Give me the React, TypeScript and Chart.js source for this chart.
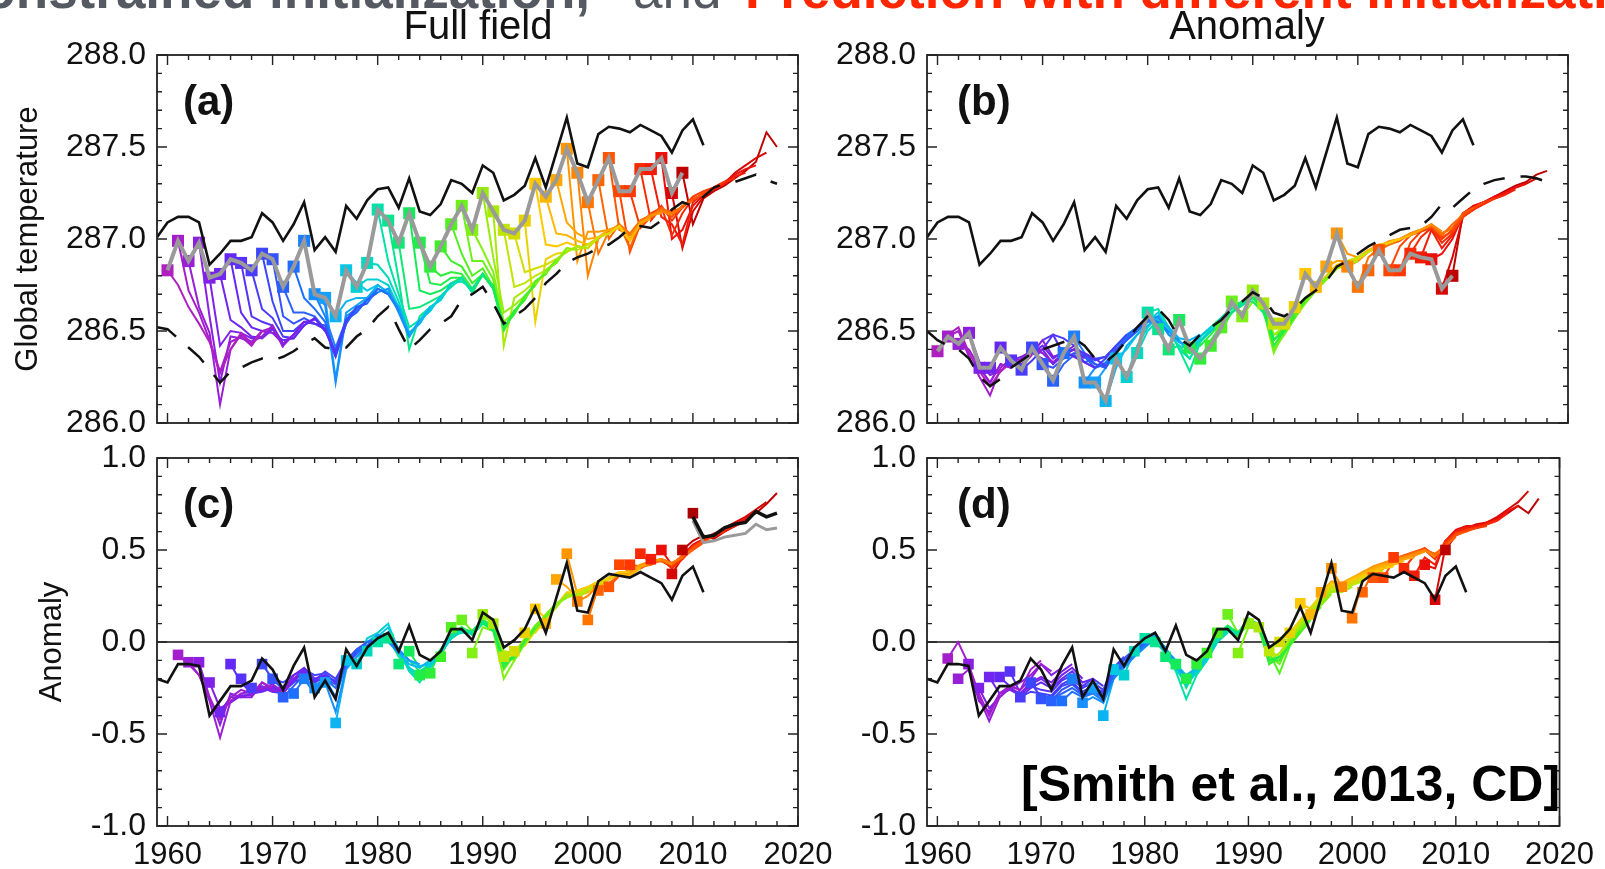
import React, { useEffect, useRef } from "react";
import { Chart, registerables } from "chart.js";
Chart.register(...registerables);

const FONT = '"Liberation Sans", Arial, Helvetica, sans-serif';

// ---------------- data ----------------
const obsYears = [1959,1960,1961,1962,1963,1964,1965,1966,1967,1968,1969,1970,1971,1972,1973,1974,1975,1976,1977,1978,1979,1980,1981,1982,1983,1984,1985,1986,1987,1988,1989,1990,1991,1992,1993,1994,1995,1996,1997,1998,1999,2000,2001,2002,2003,2004,2005,2006,2007,2008,2009,2010,2011];
const obsFull = [287.01,287.09,287.12,287.12,287.09,286.86,286.92,286.99,286.99,287.01,287.14,287.09,286.99,287.08,287.20,286.94,287.01,286.93,287.18,287.11,287.21,287.27,287.28,287.17,287.33,287.15,287.13,287.19,287.32,287.30,287.25,287.40,287.36,287.21,287.24,287.29,287.44,287.28,287.47,287.66,287.41,287.39,287.57,287.61,287.60,287.58,287.62,287.59,287.56,287.47,287.59,287.65,287.51];
const obsAnom = [-0.20,-0.22,-0.12,-0.12,-0.13,-0.40,-0.32,-0.24,-0.24,-0.21,-0.09,-0.15,-0.26,-0.13,-0.03,-0.30,-0.21,-0.31,-0.04,-0.13,-0.03,0.02,0.05,-0.05,0.09,-0.07,-0.10,-0.05,0.07,0.07,0.01,0.16,0.12,-0.03,0.01,0.07,0.19,0.05,0.24,0.43,0.17,0.16,0.33,0.37,0.36,0.35,0.38,0.35,0.32,0.23,0.36,0.41,0.27];

const uninitYears = [1959,1960,1961,1962,1963,1964,1965,1966,1967,1968,1969,1970,1971,1972,1973,1974,1975,1976,1977,1978,1979,1980,1981,1982,1983,1984,1985,1986,1987,1988,1989,1990,1991,1992,1993,1994,1995,1996,1997,1998,1999,2000,2001,2002,2003,2004,2005,2006,2007,2008,2009,2010,2011,2012,2013,2014,2015,2016,2017,2018];
const uninitFullField = [286.52,286.51,286.46,286.41,286.36,286.29,286.22,286.28,286.30,286.33,286.35,286.34,286.36,286.39,286.43,286.46,286.41,286.40,286.41,286.47,286.51,286.58,286.63,286.51,286.40,286.45,286.51,286.54,286.58,286.67,286.70,286.74,286.65,286.54,286.58,286.62,286.68,286.76,286.81,286.87,286.90,286.92,286.95,286.97,287.01,287.06,287.07,287.06,287.10,287.16,287.20,287.18,287.23,287.28,287.30,287.31,287.33,287.35,287.32,287.30];
const uninitAnomaly = [286.50,286.45,286.42,286.40,286.35,286.25,286.20,286.24,286.30,286.34,286.38,286.40,286.42,286.44,286.46,286.42,286.35,286.33,286.38,286.45,286.52,286.58,286.62,286.56,286.46,286.42,286.48,286.52,286.56,286.62,286.66,286.71,286.68,286.60,286.58,286.62,286.68,286.72,286.77,286.85,286.88,286.92,286.96,286.99,287.02,287.05,287.06,287.07,287.12,287.19,287.17,287.22,287.27,287.30,287.32,287.33,287.34,287.34,287.33,287.31];

const startYearsAB = [1960,1961,1962,1963,1964,1965,1966,1967,1968,1969,1970,1971,1972,1973,1974,1975,1976,1977,1978,1979,1980,1981,1982,1983,1984,1985,1986,1987,1988,1989,1990,1991,1992,1993,1994,1995,1996,1997,1998,1999,2000,2001,2002,2003,2004,2005,2006,2007,2008,2009];
const startYearsCD = [1961,1962,1963,1964,1965,1966,1967,1968,1969,1970,1971,1972,1973,1974,1975,1976,1977,1978,1979,1980,1981,1982,1983,1984,1985,1986,1987,1988,1989,1990,1991,1992,1993,1994,1995,1996,1997,1998,1999,2000,2001,2002,2003,2004,2005,2006,2007,2008,2009];

// (a) full field: first-year forecasts and following nine years of each hindcast
const firstYearA = [286.83,286.99,286.88,286.98,286.79,286.81,286.89,286.87,286.83,286.92,286.89,286.74,286.85,286.99,286.70,286.68,286.58,286.83,286.74,286.87,287.16,287.10,286.98,287.14,286.98,286.85,286.96,287.08,287.18,287.05,287.25,287.15,287.05,287.03,287.10,287.30,287.23,287.32,287.49,287.36,287.20,287.32,287.44,287.26,287.26,287.38,287.38,287.44,287.25,287.36];
const hindcastA = [
  [286.75,286.63,286.54,286.44,286.27,286.40,286.49,286.43,286.50],
  [286.72,286.60,286.45,286.28,286.44,286.47,286.42,286.50,286.52],
  [286.63,286.49,286.10,286.40,286.48,286.44,286.47,286.53,286.41],
  [286.58,286.22,286.47,286.46,286.44,286.50,286.49,286.43,286.48],
  [286.42,286.50,286.49,286.46,286.47,286.52,286.42,286.48,286.55],
  [286.56,286.52,286.47,286.46,286.51,286.43,286.48,286.55,286.56],
  [286.60,286.52,286.50,286.49,286.45,286.46,286.53,286.57,286.50],
  [286.58,286.55,286.53,286.43,286.48,286.55,286.54,286.51,286.36],
  [286.62,286.57,286.47,286.46,286.53,286.57,286.50,286.39,286.56],
  [286.66,286.50,286.50,286.55,286.54,286.51,286.37,286.56,286.63],
  [286.58,286.54,286.57,286.54,286.53,286.36,286.54,286.63,286.65],
  [286.60,286.60,286.58,286.51,286.37,286.56,286.60,286.67,286.71],
  [286.68,286.62,286.55,286.37,286.54,286.63,286.65,286.73,286.70],
  [286.70,286.58,286.41,286.56,286.61,286.67,286.73,286.70,286.61],
  [286.64,286.22,286.58,286.62,286.67,286.71,286.73,286.60,286.47],
  [286.24,286.60,286.64,286.68,286.73,286.70,286.63,286.47,286.56],
  [286.66,286.68,286.68,286.75,286.71,286.61,286.49,286.54,286.63],
  [286.76,286.72,286.75,286.71,286.63,286.47,286.56,286.61,286.69],
  [286.78,286.78,286.75,286.63,286.47,286.56,286.63,286.67,286.76],
  [286.86,286.79,286.66,286.49,286.54,286.63,286.67,286.76,286.77],
  [286.88,286.70,286.52,286.56,286.61,286.69,286.74,286.79,286.71],
  [286.78,286.40,286.58,286.63,286.67,286.76,286.77,286.73,286.81],
  [286.62,286.63,286.66,286.69,286.74,286.79,286.71,286.81,286.73],
  [286.72,286.70,286.72,286.76,286.79,286.71,286.81,286.73,286.53],
  [286.76,286.75,286.79,286.79,286.71,286.81,286.73,286.51,286.61],
  [286.80,286.82,286.81,286.73,286.80,286.75,286.51,286.61,286.67],
  [286.88,286.85,286.76,286.81,286.73,286.52,286.59,286.69,286.75],
  [286.92,286.80,286.84,286.74,286.50,286.61,286.67,286.77,286.81],
  [286.88,286.88,286.78,286.51,286.61,286.67,286.77,286.81,286.89],
  [286.94,286.82,286.55,286.60,286.69,286.75,286.83,286.87,286.95],
  [286.90,286.60,286.64,286.69,286.75,286.83,286.87,286.95,286.94],
  [286.42,286.68,286.72,286.77,286.81,286.89,286.93,286.96,286.95],
  [286.74,286.76,286.80,286.83,286.88,286.95,286.94,286.97,287.00],
  [286.82,286.84,286.86,286.89,286.93,286.96,286.95,287.01,287.03],
  [286.55,286.89,286.92,286.93,286.96,286.95,287.01,287.03,287.07],
  [286.97,286.96,286.98,286.96,286.95,287.01,287.03,287.07,286.99],
  [287.03,287.02,286.99,286.97,287.01,287.03,287.07,286.99,287.08],
  [287.09,287.03,287.00,287.01,287.05,287.06,286.99,287.09,287.11],
  [286.88,287.04,287.04,287.05,287.07,287.00,287.08,287.13,287.14],
  [286.80,287.00,287.05,287.07,287.02,287.08,287.12,287.15,287.13],
  [286.92,287.04,287.08,287.03,287.10,287.13,287.16,287.14,287.17],
  [287.00,287.08,286.95,287.09,287.12,287.17,287.13,287.18,287.21],
  [287.05,287.02,287.10,287.13,287.16,287.15,287.17,287.22,287.24],
  [286.93,287.08,287.14,287.17,287.12,287.18,287.21,287.25,287.27],
  [287.06,287.12,287.18,287.10,287.17,287.23,287.26,287.28,287.31],
  [287.10,287.17,287.02,287.14,287.22,287.24,287.28,287.31,287.33],
  [287.12,287.08,286.97,287.20,287.25,287.27,287.30,287.34,287.36],
  [287.00,287.05,287.18,287.24,287.28,287.31,287.35,287.38,287.40],
  [286.95,287.15,287.23,287.27,287.30,287.36,287.40,287.44,287.47],
  [287.08,287.22,287.26,287.29,287.33,287.37,287.42,287.58,287.50],
];

// (b) anomaly initialization
const firstYearB = [286.39,286.47,286.43,286.49,286.30,286.30,286.41,286.34,286.29,286.41,286.32,286.23,286.38,286.47,286.22,286.22,286.12,286.35,286.25,286.38,286.60,286.51,286.40,286.56,286.41,286.35,286.42,286.52,286.66,286.58,286.72,286.65,286.54,286.54,286.63,286.81,286.74,286.85,287.03,286.85,286.74,286.83,286.94,286.83,286.83,286.92,286.90,286.89,286.73,286.80];
const hindcastB = [
  [286.48,286.52,286.38,286.28,286.20,286.28,286.33,286.31,286.37],
  [286.50,286.36,286.25,286.15,286.30,286.35,286.34,286.38,286.40],
  [286.40,286.30,286.22,286.32,286.30,286.35,286.40,286.38,286.33],
  [286.33,286.26,286.28,286.34,286.32,286.38,286.45,286.36,286.38],
  [286.22,286.32,286.30,286.35,286.38,286.35,286.33,286.38,286.42],
  [286.28,286.34,286.36,286.39,286.40,286.32,286.37,286.40,286.35],
  [286.35,286.30,286.38,286.42,286.35,286.39,286.36,286.33,286.30],
  [286.32,286.38,286.45,286.48,286.37,286.40,286.38,286.35,286.31],
  [286.34,286.40,286.48,286.46,286.42,286.37,286.34,286.36,286.42],
  [286.38,286.32,286.38,286.40,286.33,286.30,286.35,286.42,286.48],
  [286.30,286.35,286.38,286.36,286.32,286.30,286.40,286.45,286.50],
  [286.32,286.37,286.33,286.35,286.36,286.42,286.47,286.52,286.55],
  [286.40,286.36,286.30,286.32,286.40,286.46,286.50,286.56,286.54],
  [286.38,286.32,286.30,286.42,286.48,286.52,286.57,286.55,286.49],
  [286.30,286.33,286.40,286.46,286.51,286.56,286.58,286.48,286.45],
  [286.30,286.38,286.45,286.50,286.55,286.54,286.50,286.44,286.42],
  [286.30,286.42,286.48,286.53,286.57,286.52,286.46,286.45,286.48],
  [286.40,286.48,286.55,286.60,286.50,286.44,286.40,286.47,286.52],
  [286.42,286.52,286.58,286.52,286.45,286.38,286.45,286.50,286.56],
  [286.50,286.56,286.48,286.42,286.40,286.47,286.52,286.57,286.63],
  [286.62,286.52,286.40,286.35,286.45,286.50,286.56,286.62,286.65],
  [286.52,286.40,286.28,286.44,286.50,286.55,286.60,286.64,286.68],
  [286.42,286.35,286.44,286.52,286.57,286.63,286.66,286.66,286.60],
  [286.40,286.45,286.50,286.56,286.60,286.65,286.68,286.62,286.46],
  [286.42,286.48,286.55,286.63,286.66,286.70,286.60,286.45,286.50],
  [286.45,286.53,286.60,286.64,286.68,286.63,286.42,286.50,286.58],
  [286.50,286.60,286.65,286.70,286.62,286.45,286.52,286.60,286.66],
  [286.60,286.66,286.70,286.64,286.42,286.50,286.58,286.67,286.72],
  [286.64,286.68,286.62,286.40,286.48,286.57,286.66,286.73,286.79],
  [286.66,286.62,286.38,286.50,286.58,286.65,286.72,286.78,286.84],
  [286.66,286.48,286.52,286.60,286.67,286.73,286.79,286.85,286.87],
  [286.48,286.50,286.58,286.66,286.72,286.78,286.84,286.86,286.88],
  [286.50,286.57,286.65,286.72,286.78,286.85,286.87,286.90,286.93],
  [286.58,286.66,286.73,286.79,286.84,286.88,286.90,286.93,286.96],
  [286.68,286.73,286.78,286.84,286.87,286.89,286.93,286.96,286.98],
  [286.75,286.79,286.85,286.87,286.90,286.93,286.96,286.98,287.00],
  [286.80,286.86,286.88,286.90,286.94,286.97,286.98,287.00,287.02],
  [286.88,286.88,286.90,286.93,286.96,286.98,287.00,287.02,287.05],
  [286.92,286.90,286.94,286.96,286.99,287.00,287.03,287.05,287.08],
  [286.88,286.93,286.96,286.98,287.00,287.02,287.05,287.08,287.04],
  [286.90,286.95,286.97,287.00,287.03,287.05,287.08,287.03,287.06],
  [286.94,286.98,287.00,287.02,287.05,287.07,287.02,287.08,287.13],
  [286.97,286.99,287.03,287.05,287.07,287.03,287.06,287.14,287.17],
  [286.96,287.02,287.04,287.07,287.01,287.04,287.12,287.17,287.20],
  [286.98,287.04,287.06,287.00,287.05,287.13,287.16,287.20,287.22],
  [287.01,287.06,286.98,287.03,287.12,287.16,287.19,287.22,287.24],
  [287.05,286.95,287.02,287.14,287.17,287.20,287.22,287.24,287.27],
  [286.92,287.00,287.13,287.18,287.20,287.23,287.25,287.28,287.30],
  [286.90,287.12,287.16,287.20,287.22,287.25,287.28,287.30,287.33],
  [287.14,287.18,287.20,287.23,287.26,287.29,287.31,287.35,287.37],
];

// (c) full field, drift-corrected anomaly
const firstYearC = [-0.07,-0.11,-0.11,-0.22,-0.38,-0.12,-0.20,-0.25,-0.12,-0.20,-0.30,-0.28,-0.20,-0.25,-0.22,-0.44,-0.10,-0.12,-0.05,0.00,0.02,-0.12,-0.05,-0.18,-0.17,-0.08,0.08,0.12,-0.06,0.15,0.10,-0.08,-0.05,0.05,0.18,0.10,0.34,0.48,0.22,0.12,0.28,0.30,0.42,0.42,0.48,0.45,0.50,0.37,0.50];
const hindcastC = [
  [-0.12,-0.18,-0.30,-0.42,-0.30,-0.26,-0.28,-0.22,-0.25],
  [-0.18,-0.32,-0.52,-0.32,-0.28,-0.27,-0.25,-0.23,-0.27],
  [-0.30,-0.45,-0.28,-0.30,-0.30,-0.22,-0.26,-0.28,-0.18],
  [-0.36,-0.33,-0.29,-0.29,-0.25,-0.27,-0.24,-0.20,-0.15],
  [-0.30,-0.30,-0.28,-0.26,-0.24,-0.28,-0.21,-0.16,-0.22],
  [-0.22,-0.28,-0.27,-0.25,-0.26,-0.18,-0.14,-0.20,-0.18],
  [-0.27,-0.24,-0.27,-0.28,-0.20,-0.17,-0.22,-0.18,-0.22],
  [-0.26,-0.25,-0.27,-0.22,-0.19,-0.21,-0.16,-0.20,-0.10],
  [-0.20,-0.22,-0.18,-0.15,-0.18,-0.17,-0.22,-0.12,-0.06],
  [-0.26,-0.22,-0.15,-0.21,-0.20,-0.23,-0.10,-0.04,0.00],
  [-0.24,-0.18,-0.22,-0.19,-0.21,-0.12,-0.06,-0.02,0.03],
  [-0.20,-0.24,-0.20,-0.25,-0.10,-0.05,0.00,0.02,0.04],
  [-0.28,-0.20,-0.30,-0.12,-0.06,-0.02,0.02,0.01,-0.06],
  [-0.22,-0.38,-0.14,-0.08,-0.02,0.03,0.04,-0.04,-0.10],
  [-0.30,-0.10,-0.05,0.00,0.04,0.02,-0.05,-0.10,-0.12],
  [-0.15,-0.08,-0.02,0.02,0.00,-0.06,-0.12,-0.14,-0.10],
  [-0.06,-0.02,0.03,0.08,-0.04,-0.10,-0.13,-0.12,-0.07],
  [0.02,0.05,0.10,-0.05,-0.14,-0.18,-0.12,-0.06,0.02],
  [0.04,0.02,-0.06,-0.15,-0.20,-0.14,-0.06,0.02,0.06],
  [0.05,-0.04,-0.16,-0.22,-0.13,-0.04,0.03,0.05,0.05],
  [-0.08,-0.14,-0.18,-0.10,-0.06,0.04,0.07,0.04,0.10],
  [-0.10,-0.16,-0.12,-0.04,0.02,0.06,0.06,0.11,0.08],
  [-0.14,-0.10,-0.06,0.04,0.08,0.04,0.10,0.06,-0.10],
  [-0.13,-0.05,0.02,0.06,0.06,0.12,0.08,-0.12,-0.08],
  [-0.04,0.03,0.08,0.04,0.11,0.09,-0.14,-0.06,0.00],
  [0.04,0.07,0.06,0.10,0.07,-0.12,-0.08,0.01,0.08],
  [0.06,0.05,0.12,0.09,-0.10,-0.09,0.00,0.07,0.13],
  [0.06,0.11,0.07,-0.15,-0.07,0.01,0.09,0.14,0.20],
  [0.08,0.06,-0.20,-0.10,-0.01,0.08,0.15,0.21,0.24],
  [0.10,-0.08,-0.09,0.00,0.09,0.14,0.20,0.25,0.26],
  [-0.05,-0.06,0.02,0.08,0.13,0.19,0.26,0.24,0.28],
  [-0.10,0.00,0.07,0.14,0.21,0.24,0.26,0.29,0.31],
  [-0.02,0.06,0.15,0.20,0.26,0.25,0.28,0.31,0.34],
  [0.05,0.13,0.20,0.27,0.27,0.29,0.32,0.35,0.37],
  [0.13,0.19,0.26,0.28,0.30,0.33,0.34,0.38,0.38],
  [0.20,0.25,0.25,0.27,0.31,0.34,0.37,0.36,0.40],
  [0.30,0.24,0.28,0.30,0.35,0.38,0.37,0.41,0.43],
  [0.26,0.29,0.32,0.34,0.37,0.39,0.42,0.44,0.45],
  [0.25,0.31,0.35,0.38,0.38,0.41,0.43,0.45,0.42],
  [0.30,0.34,0.37,0.36,0.41,0.42,0.45,0.43,0.46],
  [0.32,0.36,0.38,0.40,0.43,0.44,0.42,0.47,0.50],
  [0.36,0.37,0.41,0.42,0.45,0.43,0.46,0.51,0.55],
  [0.38,0.40,0.43,0.44,0.42,0.46,0.50,0.54,0.58],
  [0.41,0.44,0.45,0.41,0.46,0.52,0.55,0.58,0.60],
  [0.43,0.45,0.40,0.45,0.51,0.56,0.59,0.61,0.63],
  [0.44,0.41,0.46,0.52,0.55,0.58,0.61,0.63,0.66],
  [0.42,0.47,0.53,0.56,0.57,0.60,0.64,0.67,0.71],
  [0.46,0.52,0.55,0.58,0.62,0.65,0.68,0.72,0.76],
  [0.55,0.58,0.56,0.60,0.63,0.67,0.70,0.75,0.81],
];
const forecastYears = [2010,2011,2012,2013,2014,2015,2016,2017,2018];
const forecastMean = [0.68,0.57,0.58,0.62,0.64,0.65,0.71,0.68,0.70];
const forecastOther = [0.66,0.54,0.55,0.57,0.58,0.59,0.64,0.61,0.62];
const forecastFirstYear = [0.70];

// (d) anomaly initialization, anomaly
const firstYearD = [-0.09,-0.20,-0.12,-0.25,-0.19,-0.19,-0.16,-0.30,-0.22,-0.31,-0.32,-0.32,-0.20,-0.33,-0.25,-0.40,-0.15,-0.18,-0.05,0.02,0.00,-0.08,-0.12,-0.20,-0.12,-0.06,0.05,0.15,-0.06,0.10,0.08,-0.05,0.00,0.05,0.21,0.15,0.27,0.40,0.30,0.13,0.27,0.35,0.35,0.46,0.40,0.36,0.42,0.23,0.50];
const hindcastD = [
  [0.00,-0.12,-0.28,-0.40,-0.28,-0.24,-0.26,-0.15,-0.10],
  [-0.15,-0.30,-0.43,-0.30,-0.25,-0.22,-0.18,-0.12,-0.16],
  [-0.32,-0.38,-0.28,-0.24,-0.26,-0.20,-0.12,-0.18,-0.14],
  [-0.36,-0.30,-0.25,-0.28,-0.22,-0.19,-0.22,-0.16,-0.12],
  [-0.28,-0.26,-0.29,-0.23,-0.20,-0.24,-0.18,-0.14,-0.20],
  [-0.24,-0.30,-0.25,-0.22,-0.25,-0.20,-0.16,-0.22,-0.20],
  [-0.28,-0.24,-0.26,-0.27,-0.21,-0.18,-0.24,-0.20,-0.24],
  [-0.27,-0.28,-0.29,-0.23,-0.20,-0.25,-0.22,-0.26,-0.12],
  [-0.30,-0.30,-0.24,-0.22,-0.27,-0.24,-0.28,-0.14,-0.08],
  [-0.32,-0.26,-0.23,-0.28,-0.25,-0.27,-0.15,-0.09,-0.04],
  [-0.28,-0.25,-0.29,-0.26,-0.29,-0.17,-0.10,-0.05,0.00],
  [-0.27,-0.30,-0.27,-0.30,-0.18,-0.12,-0.06,-0.01,0.02],
  [-0.30,-0.28,-0.32,-0.19,-0.13,-0.07,-0.02,0.01,-0.05],
  [-0.30,-0.33,-0.20,-0.14,-0.08,-0.03,0.02,-0.04,-0.10],
  [-0.33,-0.18,-0.12,-0.06,-0.02,0.03,-0.03,-0.12,-0.20],
  [-0.20,-0.12,-0.05,0.00,0.04,-0.05,-0.12,-0.18,-0.14],
  [-0.12,-0.06,0.02,0.05,-0.04,-0.14,-0.20,-0.15,-0.08],
  [-0.05,0.01,0.04,-0.06,-0.12,-0.24,-0.16,-0.09,0.00],
  [0.00,0.03,-0.04,-0.15,-0.22,-0.17,-0.10,0.00,0.05],
  [0.04,-0.05,-0.16,-0.31,-0.18,-0.10,0.01,0.06,0.04],
  [-0.06,-0.14,-0.22,-0.14,-0.08,0.02,0.07,0.05,0.10],
  [-0.15,-0.20,-0.13,-0.06,0.03,0.08,0.04,0.11,0.08],
  [-0.25,-0.14,-0.05,0.04,0.09,0.05,0.12,0.08,-0.08],
  [-0.15,-0.06,0.03,0.08,0.05,0.13,0.09,-0.10,-0.08],
  [-0.07,0.02,0.07,0.04,0.12,0.10,-0.12,-0.08,-0.02],
  [0.03,0.06,0.03,0.10,0.09,-0.10,-0.10,-0.01,0.06],
  [0.06,0.04,0.11,0.10,-0.06,-0.17,-0.02,0.05,0.12],
  [0.05,0.12,0.09,-0.08,-0.12,0.00,0.06,0.13,0.19],
  [0.08,0.07,-0.10,-0.10,0.00,0.07,0.14,0.20,0.26],
  [0.08,-0.12,-0.08,0.01,0.08,0.15,0.21,0.27,0.28],
  [-0.10,-0.06,0.02,0.09,0.16,0.22,0.28,0.27,0.30],
  [-0.08,0.01,0.10,0.17,0.23,0.29,0.28,0.31,0.33],
  [0.02,0.11,0.18,0.24,0.30,0.29,0.32,0.34,0.36],
  [0.12,0.19,0.25,0.31,0.30,0.33,0.35,0.37,0.39],
  [0.18,0.26,0.32,0.31,0.34,0.36,0.38,0.40,0.41],
  [0.25,0.32,0.32,0.35,0.37,0.39,0.41,0.42,0.44],
  [0.33,0.32,0.35,0.38,0.40,0.42,0.43,0.45,0.46],
  [0.30,0.34,0.38,0.41,0.43,0.44,0.46,0.47,0.49],
  [0.32,0.37,0.41,0.43,0.45,0.46,0.48,0.50,0.46],
  [0.33,0.39,0.42,0.45,0.46,0.48,0.50,0.47,0.51],
  [0.38,0.42,0.45,0.47,0.49,0.50,0.48,0.52,0.57],
  [0.40,0.45,0.47,0.48,0.50,0.47,0.52,0.58,0.60],
  [0.44,0.47,0.49,0.51,0.47,0.53,0.59,0.60,0.62],
  [0.45,0.48,0.51,0.46,0.54,0.58,0.61,0.62,0.63],
  [0.47,0.50,0.45,0.55,0.59,0.61,0.62,0.64,0.66],
  [0.46,0.42,0.54,0.60,0.62,0.63,0.64,0.66,0.70],
  [0.40,0.55,0.61,0.63,0.63,0.65,0.67,0.71,0.74],
  [0.52,0.60,0.62,0.64,0.65,0.68,0.72,0.76,0.82],
  [0.58,0.61,0.63,0.65,0.67,0.70,0.74,0.70,0.78],
];

const xTickLabels = [1960, 1970, 1980, 1990, 2000, 2010, 2020];
const yTicksTemperature = [286.0, 286.5, 287.0, 287.5, 288.0];
const yTicksAnomaly = [-1.0, -0.5, 0.0, 0.5, 1.0];

// ---------------- styling ----------------
const colorStops: number[][] = [
  [1960, 176, 32, 192], [1963, 140, 30, 225], [1966, 100, 40, 245], [1969, 60, 70, 255],
  [1972, 30, 110, 255], [1975, 20, 160, 255], [1977, 0, 200, 230], [1980, 0, 225, 170],
  [1983, 20, 235, 90], [1986, 60, 240, 40], [1989, 130, 240, 20], [1992, 190, 230, 0],
  [1995, 255, 200, 0], [1998, 255, 150, 0], [2001, 255, 100, 0], [2004, 255, 55, 0],
  [2007, 235, 15, 10], [2009, 190, 0, 0],
];
function startColor(year: number): string {
  for (let i = 0; i < colorStops.length - 1; i++) {
    const a = colorStops[i], b = colorStops[i + 1];
    if (year >= a[0] && year <= b[0]) {
      const t = (year - a[0]) / (b[0] - a[0]);
      const c = [1, 2, 3].map((k) => Math.round(a[k] + (b[k] - a[k]) * t));
      return `rgb(${c[0]},${c[1]},${c[2]})`;
    }
  }
  const l = colorStops[colorStops.length - 1];
  return `rgb(${l[1]},${l[2]},${l[3]})`;
}

const axisFrame = {
  id: "axisFrame",
  beforeDatasetsDraw(chart: any, _args: any, opts: any) {
    if (!opts || !opts.zero) return;
    const { ctx, chartArea: a } = chart;
    const y = chart.scales.y.getPixelForValue(0);
    ctx.save();
    ctx.strokeStyle = "#111";
    ctx.lineWidth = 1.6;
    ctx.beginPath();
    ctx.moveTo(a.left, y);
    ctx.lineTo(a.right, y);
    ctx.stroke();
    ctx.restore();
  },
  afterDatasetsDraw(chart: any, _args: any, opts: any) {
    const { ctx, chartArea: a, scales } = chart;
    ctx.save();
    ctx.strokeStyle = "#222";
    ctx.lineWidth = 1.4;
    ctx.beginPath();
    for (let yr = 1960; yr <= 2020; yr += 2) {
      const x = scales.x.getPixelForValue(yr);
      const len = yr % 10 === 0 ? 10 : 5;
      ctx.moveTo(x, a.bottom);
      ctx.lineTo(x, a.bottom - len);
      ctx.moveTo(x, a.top);
      ctx.lineTo(x, a.top + len);
    }
    const lo = opts.lo, hi = opts.hi;
    for (let k = 0; k <= 20; k++) {
      const v = lo + ((hi - lo) * k) / 20;
      const y = scales.y.getPixelForValue(v);
      const len = k % 5 === 0 ? 10 : 5;
      ctx.moveTo(a.left, y);
      ctx.lineTo(a.left + len, y);
      ctx.moveTo(a.right, y);
      ctx.lineTo(a.right - len, y);
    }
    ctx.stroke();
    ctx.lineWidth = 1.8;
    ctx.strokeRect(a.left, a.top, a.right - a.left, a.bottom - a.top);
    ctx.restore();
  },
};

type PanelSpec = {
  starts: number[];
  first: number[];
  rows: number[][];
  obs: number[];
  dashed?: number[];
  gray: boolean;
  forecast: boolean;
  lo: number;
  hi: number;
  yTicks: number[];
  yTitle?: string;
  yTitlePad: number;
  showX: boolean;
  sqR: number;
  zero: boolean;
  w: number;
  h: number;
  padTop: number;
  padRight: number;
  xAxisH: number;
};

function buildConfig(p: PanelSpec): any {
  const datasets: any[] = [];
  p.starts.forEach((s, i) => {
    const pts = [{ x: s, y: p.first[i] }].concat(p.rows[i].map((v, k) => ({ x: s + 1 + k, y: v })));
    datasets.push({
      data: pts,
      borderColor: startColor(s),
      borderWidth: 2,
      pointRadius: 0,
      tension: 0,
      fill: false,
      order: 10,
    });
  });
  datasets.push({
    data: p.starts.map((s, i) => ({ x: s, y: p.first[i] })),
    showLine: false,
    pointStyle: "rect",
    pointRadius: p.sqR,
    pointBorderWidth: 0,
    pointBackgroundColor: p.starts.map((s) => startColor(s)),
    order: 8,
  });
  if (p.gray) {
    datasets.push({
      data: p.starts.map((s, i) => ({ x: s, y: p.first[i] })),
      borderColor: "#9a9a9a",
      borderWidth: 4,
      pointRadius: 0,
      tension: 0,
      order: 6,
    });
  }
  if (p.dashed) {
    datasets.push({
      data: uninitYears.map((yr, i) => ({ x: yr, y: p.dashed![i] })),
      borderColor: "#111",
      borderWidth: 2.5,
      borderDash: [22, 16],
      pointRadius: 0,
      tension: 0,
      order: 4,
    });
  }
  datasets.push({
    data: obsYears.map((yr, i) => ({ x: yr, y: p.obs[i] })),
    borderColor: "#111",
    borderWidth: 2.6,
    pointRadius: 0,
    tension: 0,
    order: 2,
  });
  if (p.forecast) {
    datasets.push({
      data: forecastYears.map((yr, i) => ({ x: yr, y: forecastOther[i] })),
      borderColor: "#9a9a9a",
      borderWidth: 3,
      pointRadius: 0,
      tension: 0,
      order: 1.5,
    });
    datasets.push({
      data: forecastYears.map((yr, i) => ({ x: yr, y: forecastMean[i] })),
      borderColor: "#111",
      borderWidth: 3.5,
      pointRadius: 0,
      tension: 0,
      order: 1,
    });
    datasets.push({
      data: forecastFirstYear.map((v, i) => ({ x: forecastYears[i], y: v })),
      showLine: false,
      pointStyle: "rect",
      pointRadius: p.sqR,
      pointBorderWidth: 0,
      pointBackgroundColor: "rgb(170,0,0)",
      order: 3,
    });
  }
  return {
    type: "line",
    data: { datasets },
    options: {
      responsive: false,
      animation: false,
      events: [],
      layout: { padding: { left: 0, top: p.padTop, right: p.padRight, bottom: 0 } },
      plugins: {
        legend: { display: false },
        tooltip: { enabled: false },
        axisFrame: { lo: p.lo, hi: p.hi, zero: p.zero },
      },
      scales: {
        x: {
          type: "linear",
          min: 1959,
          max: 2020,
          grid: { display: false, drawTicks: false },
          border: { display: false },
          ticks: {
            display: p.showX,
            color: "#111",
            font: { family: FONT, size: 31 },
            padding: 11,
            maxRotation: 0,
            autoSkip: false,
            callback: (v: any) => String(v),
          },
          afterBuildTicks: (s: any) => {
            s.ticks = xTickLabels.map((v) => ({ value: v }));
          },
          afterFit: (s: any) => {
            s.height = p.xAxisH;
          },
        },
        y: {
          type: "linear",
          min: p.lo,
          max: p.hi,
          grid: { display: false, drawTicks: false },
          border: { display: false },
          ticks: {
            color: "#111",
            font: { family: FONT, size: 32 },
            padding: 11,
            autoSkip: false,
            callback: (v: any) => Number(v).toFixed(1),
          },
          afterBuildTicks: (s: any) => {
            s.ticks = p.yTicks.map((v) => ({ value: v }));
          },
          afterFit: (s: any) => {
            s.width = 157;
          },
          title: {
            display: !!p.yTitle,
            text: p.yTitle || "",
            color: "#111",
            font: { family: FONT, size: 31 },
            padding: { top: p.yTitlePad, bottom: 0 },
          },
        },
      },
    },
    plugins: [axisFrame],
  };
}

function Panel({ spec, left, top }: { spec: PanelSpec; left: number; top: number }) {
  const ref = useRef<HTMLCanvasElement | null>(null);
  useEffect(() => {
    if (!ref.current) return;
    const chart = new Chart(ref.current, buildConfig(spec));
    return () => chart.destroy();
  }, []);
  return (
    <canvas
      ref={ref}
      width={spec.w}
      height={spec.h}
      style={{ position: "absolute", left, top, width: spec.w, height: spec.h }}
    />
  );
}

// top panels: canvas 0..460, plot 55..423 ; bottom panels: canvas 420..869, plot 458..826
const specA: PanelSpec = {
  starts: startYearsAB, first: firstYearA, rows: hindcastA, obs: obsFull, dashed: uninitFullField,
  gray: true, forecast: false, lo: 286, hi: 288, yTicks: yTicksTemperature, yTitle: "Global temperature",
  yTitlePad: 10, showX: false, sqR: 8.5, zero: false, w: 850, h: 460, padTop: 55, padRight: 52, xAxisH: 37,
};
const specB: PanelSpec = {
  starts: startYearsAB, first: firstYearB, rows: hindcastB, obs: obsFull, dashed: uninitAnomaly,
  gray: true, forecast: false, lo: 286, hi: 288, yTicks: yTicksTemperature,
  yTitlePad: 0, showX: false, sqR: 8.5, zero: false, w: 835, h: 460, padTop: 55, padRight: 37, xAxisH: 37,
};
const specC: PanelSpec = {
  starts: startYearsCD, first: firstYearC, rows: hindcastC, obs: obsAnom,
  gray: false, forecast: true, lo: -1, hi: 1, yTicks: yTicksAnomaly, yTitle: "Anomaly",
  yTitlePad: 34, showX: true, sqR: 7.5, zero: true, w: 850, h: 449, padTop: 38, padRight: 52, xAxisH: 43,
};
const specD: PanelSpec = {
  starts: startYearsCD, first: firstYearD, rows: hindcastD, obs: obsAnom,
  gray: false, forecast: false, lo: -1, hi: 1, yTicks: yTicksAnomaly,
  yTitlePad: 0, showX: true, sqR: 7.5, zero: true, w: 835, h: 449, padTop: 38, padRight: 37, xAxisH: 43,
};

const abs = (extra: React.CSSProperties): React.CSSProperties => ({
  position: "absolute",
  whiteSpace: "nowrap",
  fontFamily: FONT,
  ...extra,
});

export default function App() {
  return (
    <div
      style={{
        position: "absolute",
        left: 0,
        top: 0,
        width: 1605,
        height: 869,
        overflow: "hidden",
        background: "#fff",
        fontFamily: FONT,
      }}
    >
      <Panel spec={specA} left={0} top={0} />
      <Panel spec={specB} left={770} top={0} />
      <Panel spec={specC} left={0} top={420} />
      <Panel spec={specD} left={770} top={420} />

      {/* cropped slide heading */}
      <div style={abs({ right: 1605 - 590, top: -37, fontSize: 53, lineHeight: "53px", fontWeight: 700, color: "#555a62" })}>
        Unconstrained initialization,
      </div>
      <div style={abs({ left: 633, top: -37, fontSize: 53, lineHeight: "53px", fontWeight: 400, color: "#555a62" })}>
        and
      </div>
      <div style={abs({ left: 745, top: -37, fontSize: 53, lineHeight: "53px", fontWeight: 700, color: "#ff2600" })}>
        Prediction with different initialization
      </div>

      {/* column titles */}
      <div style={abs({ left: 278, width: 400, textAlign: "center", top: 5, fontSize: 40, lineHeight: "40px", color: "#111" })}>
        Full field
      </div>
      <div style={abs({ left: 1047, width: 400, textAlign: "center", top: 5, fontSize: 40, lineHeight: "40px", color: "#111" })}>
        Anomaly
      </div>

      {/* panel letters */}
      <div style={abs({ left: 183, top: 80, fontSize: 42, lineHeight: "42px", fontWeight: 700, color: "#111" })}>(a)</div>
      <div style={abs({ left: 957, top: 80, fontSize: 42, lineHeight: "42px", fontWeight: 700, color: "#111" })}>(b)</div>
      <div style={abs({ left: 183, top: 483, fontSize: 42, lineHeight: "42px", fontWeight: 700, color: "#111" })}>(c)</div>
      <div style={abs({ left: 957, top: 483, fontSize: 42, lineHeight: "42px", fontWeight: 700, color: "#111" })}>(d)</div>

      {/* citation */}
      <div style={abs({ left: 1021, top: 759, fontSize: 50, lineHeight: "50px", fontWeight: 700, color: "#000" })}>
        [Smith et al., 2013, CD]
      </div>
    </div>
  );
}
